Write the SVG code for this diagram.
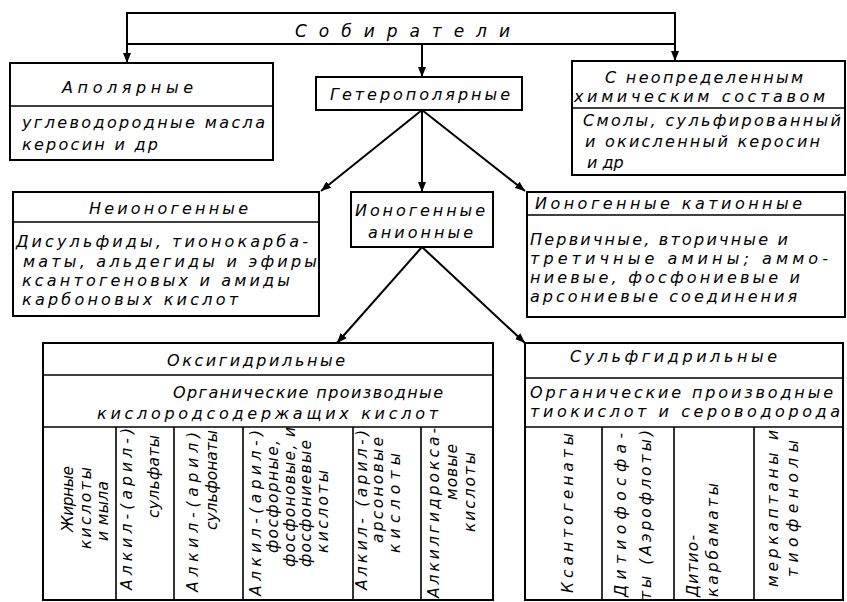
<svg xmlns="http://www.w3.org/2000/svg" width="847" height="602" viewBox="0 0 847 602">
<style>
.b{fill:none;stroke:#000;stroke-width:2}
.l{stroke:#000;stroke-width:1.6;fill:none}
.c{stroke:#000;stroke-width:2;fill:none}
text{font-family:"DejaVu Sans","Liberation Sans",Arial,sans-serif;font-style:italic;font-size:16px;fill:#000}
text.v{font-size:15.5px}
</style>
<defs>
<marker id="ah" viewBox="0 0 10 10" refX="10" refY="5" markerWidth="5" markerHeight="5" orient="auto" markerUnits="strokeWidth">
<path d="M0,1 L10,5 L0,9 Z" fill="#000"/>
</marker>
</defs>
<rect width="847" height="602" fill="#fff"/>

<g id="connectors">
<line class="c" x1="127" y1="44" x2="127" y2="63" marker-end="url(#ah)"/>
<line class="c" x1="422" y1="44" x2="422" y2="77" marker-end="url(#ah)"/>
<line class="c" x1="675" y1="44" x2="675" y2="61" marker-end="url(#ah)"/>
<line class="c" x1="422" y1="110" x2="321" y2="191" marker-end="url(#ah)"/>
<line class="c" x1="422" y1="110" x2="422" y2="192" marker-end="url(#ah)"/>
<line class="c" x1="422" y1="110" x2="525" y2="191" marker-end="url(#ah)"/>
<line class="c" x1="422" y1="247" x2="337" y2="343" marker-end="url(#ah)"/>
<line class="c" x1="422" y1="247" x2="525" y2="343" marker-end="url(#ah)"/>
</g>

<g id="sobirateli">
<rect class="b" x="127" y="13" width="548" height="31"/>
<text x="295" y="37" textLength="215" lengthAdjust="spacing" style="font-size:17px">Собиратели</text>
</g>

<g id="apolyarnye">
<rect class="b" x="10" y="63" width="263" height="97"/>
<line class="l" x1="10" y1="106" x2="273" y2="106"/>
<text x="62" y="93" textLength="131" lengthAdjust="spacing">Аполярные</text>
<text x="22" y="128" textLength="243" lengthAdjust="spacing">углеводородные масла</text>
<text x="22" y="150" textLength="136" lengthAdjust="spacing">керосин и др</text>
</g>

<g id="geteropolyarnye">
<rect class="b" x="316" y="77" width="206" height="33"/>
<text x="330" y="100" textLength="180" lengthAdjust="spacing">Гетерополярные</text>
</g>

<g id="neopredelennye">
<rect class="b" x="572" y="61" width="273" height="114"/>
<line class="l" x1="572" y1="108" x2="845" y2="108"/>
<text x="605" y="83" textLength="198" lengthAdjust="spacing">С неопределенным</text>
<text x="574" y="102" textLength="251" lengthAdjust="spacing">химическим составом</text>
<text x="583" y="126" textLength="258" lengthAdjust="spacing">Смолы, сульфированный</text>
<text x="585" y="147" textLength="235" lengthAdjust="spacing">и окисленный керосин</text>
<text x="587" y="168">и др</text>
</g>

<g id="neionogennye">
<rect class="b" x="13" y="192" width="306" height="124"/>
<line class="l" x1="13" y1="222" x2="319" y2="222"/>
<text x="89" y="214" textLength="159" lengthAdjust="spacing">Неионогенные</text>
<text x="16" y="247" textLength="292" lengthAdjust="spacing">Дисульфиды, тионокарба-</text>
<text x="23" y="267" textLength="294" lengthAdjust="spacing">маты, альдегиды и эфиры</text>
<text x="22" y="286" textLength="268" lengthAdjust="spacing">ксантогеновых и амиды</text>
<text x="22" y="305" textLength="216" lengthAdjust="spacing">карбоновых кислот</text>
</g>

<g id="anionnye">
<rect class="b" x="351" y="192" width="142" height="55"/>
<text x="355" y="216" textLength="130" lengthAdjust="spacing">Ионогенные</text>
<text x="368" y="238" textLength="105" lengthAdjust="spacing">анионные</text>
</g>

<g id="kationnye">
<rect class="b" x="527" y="192" width="318" height="125"/>
<line class="l" x1="527" y1="215" x2="845" y2="215"/>
<text x="535" y="209" textLength="267" lengthAdjust="spacing">Ионогенные катионные</text>
<text x="530" y="245" textLength="258" lengthAdjust="spacing">Первичные, вторичные и</text>
<text x="530" y="264" textLength="298" lengthAdjust="spacing">третичные амины; аммо-</text>
<text x="530" y="283" textLength="270" lengthAdjust="spacing">ниевые, фосфониевые и</text>
<text x="530" y="302" textLength="267" lengthAdjust="spacing">арсониевые соединения</text>
</g>

<g id="oksigidrilnye">
<rect class="b" x="43" y="343" width="450" height="257"/>
<line class="l" x1="43" y1="375" x2="493" y2="375"/>
<line class="l" x1="43" y1="427" x2="493" y2="427"/>
<line class="l" x1="116" y1="427" x2="116" y2="600"/>
<line class="l" x1="174" y1="427" x2="174" y2="600"/>
<line class="l" x1="243" y1="427" x2="243" y2="600"/>
<line class="l" x1="353" y1="427" x2="353" y2="600"/>
<line class="l" x1="421" y1="427" x2="421" y2="600"/>
<text x="167" y="366" textLength="178" lengthAdjust="spacing">Оксигидрильные</text>
<text x="173" y="398" textLength="270" lengthAdjust="spacing">Органические производные</text>
<text x="97" y="419" textLength="341" lengthAdjust="spacing">кислородсодержащих кислот</text>
<text class="v" transform="translate(73,532) rotate(-90)" textLength="66" lengthAdjust="spacing">Жирные</text>
<text class="v" transform="translate(91,549) rotate(-90)" textLength="82" lengthAdjust="spacing">кислоты</text>
<text class="v" transform="translate(108,541) rotate(-90)" textLength="60" lengthAdjust="spacing">и мыла</text>
<text class="v" transform="translate(132,590) rotate(-90)" textLength="162" lengthAdjust="spacing">Алкил-(арил-)</text>
<text class="v" transform="translate(159,518) rotate(-90)" textLength="83" lengthAdjust="spacing">сульфаты</text>
<text class="v" transform="translate(198,592) rotate(-90)" textLength="160" lengthAdjust="spacing">Алкил-(арил)</text>
<text class="v" transform="translate(217,530) rotate(-90)" textLength="100" lengthAdjust="spacing">сульфонаты</text>
<text class="v" transform="translate(261,596) rotate(-90)" textLength="166" lengthAdjust="spacing">Алкил-(арил-)</text>
<text class="v" transform="translate(278,553) rotate(-90)" textLength="113" lengthAdjust="spacing">фосфорные,</text>
<text class="v" transform="translate(295,567) rotate(-90)" textLength="140" lengthAdjust="spacing">фосфоновые, и</text>
<text class="v" transform="translate(311,567) rotate(-90)" textLength="127" lengthAdjust="spacing">фосфониевые</text>
<text class="v" transform="translate(328,553) rotate(-90)" textLength="83" lengthAdjust="spacing">кислоты</text>
<text class="v" transform="translate(367,590) rotate(-90)" textLength="160" lengthAdjust="spacing">Алкил- (арил-)</text>
<text class="v" transform="translate(383,543) rotate(-90)" textLength="106" lengthAdjust="spacing">арсоновые</text>
<text class="v" transform="translate(400,553) rotate(-90)" textLength="100" lengthAdjust="spacing">кислоты</text>
<text class="v" transform="translate(439,598) rotate(-90)" textLength="170" lengthAdjust="spacing">Алкилгидрокса-</text>
<text class="v" transform="translate(457,500) rotate(-90)" textLength="56" lengthAdjust="spacing">мовые</text>
<text class="v" transform="translate(475,532) rotate(-90)" textLength="80" lengthAdjust="spacing">кислоты</text>
</g>

<g id="sulfgidrilnye">
<rect class="b" x="525" y="343" width="318" height="257"/>
<line class="l" x1="525" y1="378" x2="843" y2="378"/>
<line class="l" x1="525" y1="427" x2="843" y2="427"/>
<line class="l" x1="602" y1="427" x2="602" y2="600"/>
<line class="l" x1="674" y1="427" x2="674" y2="600"/>
<line class="l" x1="754" y1="427" x2="754" y2="600"/>
<text x="570" y="362" textLength="207" lengthAdjust="spacing">Сульфгидрильные</text>
<text x="530" y="398" textLength="303" lengthAdjust="spacing">Органические производные</text>
<text x="530" y="417" textLength="310" lengthAdjust="spacing">тиокислот и сероводорода</text>
<text class="v" transform="translate(573,593) rotate(-90)" textLength="160" lengthAdjust="spacing">Ксантогенаты</text>
<text class="v" transform="translate(626,597) rotate(-90)" textLength="164" lengthAdjust="spacing">Дитиофосфа-</text>
<text class="v" transform="translate(651,600) rotate(-90)" textLength="170" lengthAdjust="spacing">ты (Аэрофлоты)</text>
<text class="v" transform="translate(698,597) rotate(-90)" textLength="62" lengthAdjust="spacing">Дитио-</text>
<text class="v" transform="translate(718,597) rotate(-90)" textLength="114" lengthAdjust="spacing">карбаматы</text>
<text class="v" transform="translate(778,587) rotate(-90)" textLength="157" lengthAdjust="spacing">меркаптаны и</text>
<text class="v" transform="translate(798,577) rotate(-90)" textLength="137" lengthAdjust="spacing">тиофенолы</text>
</g>
</svg>
